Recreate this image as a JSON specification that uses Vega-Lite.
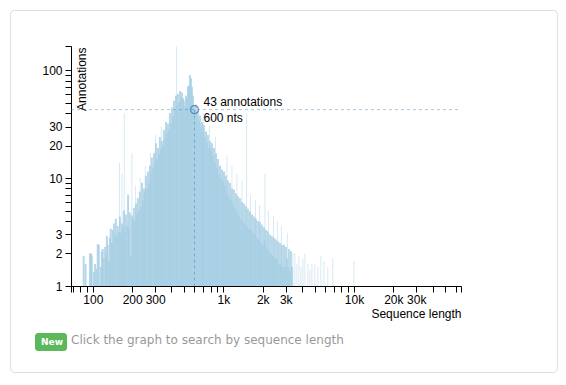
{
  "$schema": "https://vega.github.io/schema/vega-lite/v6.json",
  "width": 547,
  "height": 362,
  "autosize": {"type": "none"},
  "padding": {"left": 10, "top": 10, "right": 9, "bottom": 13},
  "background": "white",
  "title": {
    "text": "Click the graph to search by sequence length",
    "orient": "bottom",
    "anchor": "start",
    "frame": "group",
    "offset": -28,
    "dx": 61,
    "baseline": "alphabetic",
    "color": "#999999",
    "font": "DejaVu Sans",
    "fontSize": 12,
    "fontWeight": "normal"
  },
  "datasets": {
    "dense": [
      {"len":85,"n":1.9},{"len":88,"n":1.6},{"len":95,"n":2.0},{"len":97,"n":2.0},{"len":98,"n":1.9},{"len":102,"n":1.35},{"len":104,"n":1.6},{"len":107,"n":1.45},{"len":109,"n":2.45},{"len":111,"n":2.4},{"len":115,"n":1.5},{"len":117,"n":2.1},{"len":119,"n":2.2},{"len":121,"n":1.8},{"len":124,"n":2.3},{"len":126,"n":2.0},{"len":128,"n":2.9},{"len":130,"n":2.4},{"len":133,"n":1.7},{"len":135,"n":2.8},{"len":137,"n":3.4},{"len":140,"n":2.5},{"len":142,"n":3.3},{"len":145,"n":3.8},{"len":147,"n":3.0},{"len":150,"n":4.2},{"len":153,"n":2.9},{"len":155,"n":3.6},{"len":158,"n":3.2},{"len":161,"n":4.4},{"len":164,"n":3.1},{"len":167,"n":3.8},{"len":170,"n":3.5},{"len":173,"n":5.0},{"len":176,"n":3.2},{"len":179,"n":4.6},{"len":182,"n":3.6},{"len":186,"n":7.0},{"len":189,"n":3.4},{"len":192,"n":4.8},{"len":196,"n":1.9},{"len":199,"n":4.5},{"len":203,"n":4.2},{"len":206,"n":5.3},{"len":210,"n":4.0},{"len":214,"n":5.8},{"len":217,"n":4.6},{"len":221,"n":6.5},{"len":225,"n":5.0},{"len":229,"n":7.5},{"len":233,"n":5.4},{"len":238,"n":9.0},{"len":242,"n":6.2},{"len":246,"n":8.0},{"len":250,"n":7.5},{"len":255,"n":10.5},{"len":259,"n":8.0},{"len":264,"n":11.5},{"len":269,"n":9.0},{"len":274,"n":13},{"len":278,"n":11},{"len":283,"n":15.5},{"len":288,"n":12.5},{"len":294,"n":17},{"len":299,"n":14},{"len":304,"n":21},{"len":310,"n":15},{"len":315,"n":19},{"len":321,"n":16.5},{"len":326,"n":24},{"len":332,"n":18.5},{"len":338,"n":22},{"len":344,"n":20},{"len":350,"n":28},{"len":356,"n":23},{"len":363,"n":33},{"len":369,"n":26},{"len":376,"n":32},{"len":383,"n":28},{"len":389,"n":40},{"len":396,"n":32},{"len":403,"n":45},{"len":411,"n":38},{"len":418,"n":52},{"len":425,"n":42},{"len":433,"n":58},{"len":441,"n":47},{"len":448,"n":60},{"len":456,"n":50},{"len":465,"n":64},{"len":473,"n":54},{"len":481,"n":62},{"len":490,"n":55},{"len":498,"n":52},{"len":507,"n":46},{"len":516,"n":58},{"len":526,"n":55},{"len":535,"n":70},{"len":544,"n":72},{"len":554,"n":90},{"len":564,"n":84},{"len":574,"n":70},{"len":584,"n":58},{"len":595,"n":46},{"len":605,"n":43},{"len":616,"n":48},{"len":627,"n":38},{"len":638,"n":42},{"len":650,"n":34},{"len":661,"n":38},{"len":673,"n":30},{"len":685,"n":33},{"len":697,"n":27},{"len":709,"n":31},{"len":722,"n":24},{"len":735,"n":27},{"len":748,"n":21},{"len":761,"n":25},{"len":775,"n":19},{"len":789,"n":22},{"len":803,"n":18},{"len":817,"n":21},{"len":832,"n":16},{"len":846,"n":19},{"len":861,"n":14},{"len":877,"n":17},{"len":892,"n":12.5},{"len":908,"n":15},{"len":924,"n":11},{"len":941,"n":13},{"len":958,"n":10},{"len":975,"n":12},{"len":992,"n":9.5},{"len":1010,"n":11.5},{"len":1027,"n":8.5},{"len":1046,"n":10.5},{"len":1064,"n":7.2},{"len":1083,"n":9.5},{"len":1102,"n":6.8},{"len":1122,"n":9.0},{"len":1142,"n":6.2},{"len":1162,"n":8.0},{"len":1183,"n":5.8},{"len":1204,"n":7.8},{"len":1225,"n":5.2},{"len":1247,"n":7.2},{"len":1269,"n":4.8},{"len":1292,"n":6.8},{"len":1315,"n":4.5},{"len":1338,"n":6.5},{"len":1362,"n":4.2},{"len":1386,"n":6.0},{"len":1411,"n":4.0},{"len":1436,"n":5.8},{"len":1461,"n":3.8},{"len":1487,"n":5.5},{"len":1514,"n":3.6},{"len":1541,"n":5.2},{"len":1568,"n":3.4},{"len":1596,"n":4.9},{"len":1624,"n":3.3},{"len":1653,"n":4.6},{"len":1683,"n":3.1},{"len":1713,"n":4.4},{"len":1743,"n":3.0},{"len":1774,"n":4.2},{"len":1806,"n":2.8},{"len":1838,"n":4.0},{"len":1871,"n":2.7},{"len":1903,"n":3.9},{"len":1937,"n":2.5},{"len":1972,"n":3.7},{"len":2007,"n":2.4},{"len":2043,"n":3.5},{"len":2079,"n":2.6},{"len":2116,"n":3.3},{"len":2154,"n":2.2},{"len":2192,"n":3.2},{"len":2231,"n":2.1},{"len":2270,"n":3.0},{"len":2311,"n":2.0},{"len":2352,"n":2.9},{"len":2394,"n":1.9},{"len":2436,"n":2.8},{"len":2479,"n":1.8},{"len":2523,"n":2.7},{"len":2568,"n":1.8},{"len":2614,"n":2.6},{"len":2660,"n":1.6},{"len":2708,"n":2.5},{"len":2756,"n":1.6},{"len":2805,"n":2.4},{"len":2855,"n":1.5},{"len":2905,"n":2.4},{"len":2957,"n":1.5},{"len":3010,"n":2.3},{"len":3063,"n":1.8},{"len":3118,"n":1.5},{"len":3173,"n":2.2},{"len":3229,"n":1.4},{"len":3287,"n":2.1},{"len":3345,"n":1.5}
    ],
    "sparse": [
      {"len":160,"n":13.8},{"len":167,"n":11},{"len":174,"n":40},{"len":199,"n":17},{"len":212,"n":8.5},{"len":231,"n":10},{"len":252,"n":13},{"len":276,"n":17},{"len":302,"n":25},{"len":334,"n":30},{"len":438,"n":165},{"len":700,"n":40},{"len":780,"n":30},{"len":870,"n":24},{"len":1064,"n":16},{"len":1162,"n":13},{"len":1269,"n":11},{"len":1386,"n":9.5},{"len":1505,"n":40},{"len":1610,"n":7},{"len":1760,"n":6.2},{"len":1890,"n":5.6},{"len":2079,"n":11},{"len":2210,"n":5},{"len":2420,"n":4.5},{"len":2590,"n":4},{"len":2780,"n":3.6},{"len":3090,"n":3.1},
      {"len":3405,"n":2.0},{"len":3527,"n":2.0},{"len":3654,"n":1.6},{"len":3785,"n":1.9},{"len":3920,"n":1.5},{"len":4061,"n":1.8},{"len":4206,"n":2.0},{"len":4438,"n":1.6},{"len":4593,"n":1.4},{"len":4760,"n":1.6},{"len":5016,"n":1.6},{"len":5290,"n":1.5},{"len":5576,"n":1.9},{"len":5880,"n":1.7},{"len":6300,"n":1.5},{"len":6880,"n":1.8},{"len":10000,"n":1.7}
    ]
  },
  "config": {
    "view": {"stroke": "#dddddd", "cornerRadius": 4, "strokeWidth": 1},
    "axis": {
      "grid": false,
      "domainColor": "black",
      "tickColor": "black",
      "labelColor": "black",
      "titleColor": "black",
      "tickSize": 6,
      "labelFont": "Liberation Sans",
      "labelFontSize": 12,
      "titleFont": "Liberation Sans",
      "titleFontSize": 12,
      "titleFontWeight": "normal",
      "labelOverlap": false,
      "labelFlush": false
    }
  },
  "layer": [
    {
      "data": {"name": "dense"},
      "mark": {"type": "rule", "strokeWidth": 2, "color": "#a6cee3", "opacity": 0.8},
      "encoding": {
        "x": {
          "field": "len", "type": "quantitative",
          "scale": {"type": "log", "domain": [68, 66000], "range": [61, 451], "nice": false},
          "axis": {
            "title": "Sequence length",
            "offset": -86,
            "values": [68,70,80,90,100,200,300,400,500,600,700,800,900,1000,2000,3000,4000,5000,6000,7000,8000,9000,10000,20000,30000,40000,50000,60000,66000],
            "labelExpr": "indexof([100,200,300,1000,2000,3000,10000,20000,30000], datum.value) >= 0 ? (datum.value >= 1000 ? (datum.value/1000) + 'k' : datum.value + '') : ''",
            "labelPadding": 2,
            "titleX": 451,
            "titleY": 27,
            "titleAnchor": "end",
            "titleAlign": "right",
            "titleBaseline": "middle"
          }
        },
        "y": {
          "field": "n", "type": "quantitative",
          "scale": {"type": "log", "domain": [1, 167], "range": [276, 36], "nice": false},
          "axis": {
            "title": "Annotations",
            "offset": -61,
            "values": [1,2,3,4,5,6,7,8,9,10,20,30,40,50,60,70,80,90,100,167],
            "labelExpr": "indexof([1,2,3,10,20,30,100], datum.value) >= 0 ? datum.value + '' : ''",
            "labelPadding": 3,
            "titleAngle": -90,
            "titleX": 14,
            "titleY": 37,
            "titleAlign": "right",
            "titleAnchor": "end",
            "titleBaseline": "alphabetic"
          }
        },
        "y2": {"datum": 1}
      }
    },
    {
      "data": {"name": "sparse"},
      "mark": {"type": "rule", "strokeWidth": 1, "color": "#a6cee3", "opacity": 0.45},
      "encoding": {
        "x": {"field": "len", "type": "quantitative"},
        "y": {"field": "n", "type": "quantitative"},
        "y2": {"datum": 1}
      }
    },
    {
      "data": {"values": [{"len": 600, "n": 43}]},
      "layer": [
        {
          "mark": {"type": "rule", "color": "steelblue", "opacity": 0.45, "strokeDash": [3, 3], "strokeWidth": 1},
          "encoding": {
            "y": {"field": "n", "type": "quantitative"},
            "x": {"datum": 68},
            "x2": {"datum": 66000}
          }
        },
        {
          "mark": {"type": "rule", "color": "steelblue", "opacity": 0.5, "strokeDash": [3, 3], "strokeWidth": 1},
          "encoding": {
            "x": {"field": "len", "type": "quantitative"},
            "y": {"field": "n", "type": "quantitative"},
            "y2": {"datum": 1}
          }
        },
        {
          "mark": {"type": "point", "filled": false, "stroke": "#4682b4", "strokeWidth": 1.2, "size": 64, "opacity": 0.85},
          "encoding": {
            "x": {"field": "len", "type": "quantitative"},
            "y": {"field": "n", "type": "quantitative"},
            "shape": {
              "datum": "New",
              "scale": {"range": ["circle"]},
              "legend": {
                "orient": "none",
                "legendX": 25,
                "legendY": 323,
                "title": null,
                "fillColor": "#5cb85c",
                "cornerRadius": 3,
                "padding": 4,
                "symbolSize": 0,
                "symbolOpacity": 0,
                "symbolStrokeWidth": 0,
                "labelOffset": -7,
                "labelColor": "white",
                "labelFont": "DejaVu Sans",
                "labelFontWeight": "bold",
                "labelFontSize": 9
              }
            }
          }
        },
        {
          "mark": {"type": "text", "align": "left", "baseline": "alphabetic", "dx": 9, "dy": -4, "font": "Liberation Sans", "fontSize": 12, "color": "black"},
          "encoding": {
            "x": {"field": "len", "type": "quantitative"},
            "y": {"field": "n", "type": "quantitative"},
            "text": {"value": "43 annotations"}
          }
        },
        {
          "mark": {"type": "text", "align": "left", "baseline": "alphabetic", "dx": 9, "dy": 12, "font": "Liberation Sans", "fontSize": 12, "color": "black"},
          "encoding": {
            "x": {"field": "len", "type": "quantitative"},
            "y": {"field": "n", "type": "quantitative"},
            "text": {"value": "600 nts"}
          }
        }
      ]
    }
  ]
}
